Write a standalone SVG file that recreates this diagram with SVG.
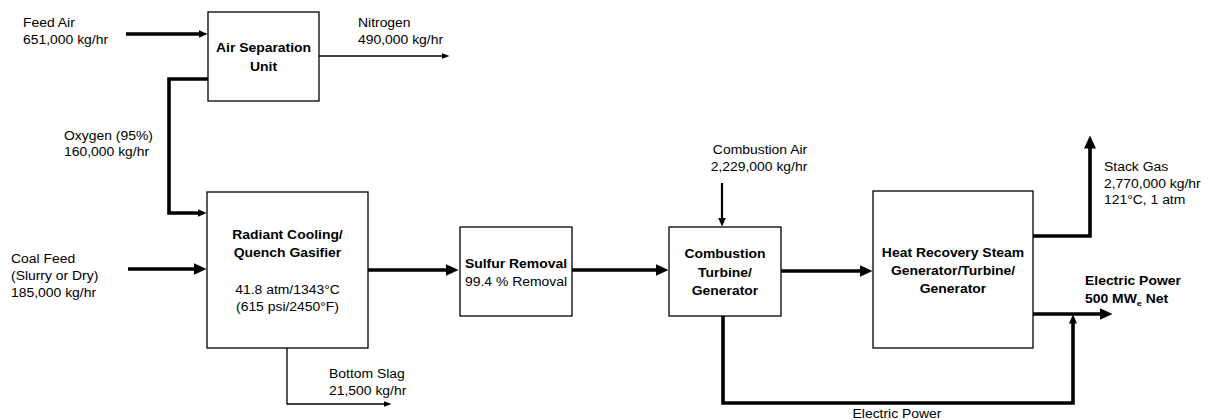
<svg xmlns="http://www.w3.org/2000/svg" width="1212" height="420" viewBox="0 0 1212 420">
<style>
.box{fill:#fff;stroke:#000;stroke-width:1.3}
.thick{fill:none;stroke:#000;stroke-width:3.6;stroke-linejoin:miter}
.mid{fill:none;stroke:#000;stroke-width:2.2}
.thin{fill:none;stroke:#000;stroke-width:1.3}
text{font-family:"Liberation Sans",Arial,sans-serif;font-size:12px;fill:#000}
.b{font-weight:bold}
.c{text-anchor:middle}
</style>
<defs>
<marker id="big" markerUnits="userSpaceOnUse" markerWidth="13" markerHeight="12" viewBox="0 0 13 12" refX="0.5" refY="6" orient="auto"><path d="M0,0 L13,6 L0,12 z" fill="#000"/></marker>
<marker id="med" markerUnits="userSpaceOnUse" markerWidth="9" markerHeight="8" viewBox="0 0 9 8" refX="0.5" refY="4" orient="auto"><path d="M0,0 L9,4 L0,8 z" fill="#000"/></marker>
<marker id="sml" markerUnits="userSpaceOnUse" markerWidth="8" markerHeight="6" viewBox="0 0 8 6" refX="0.5" refY="3" orient="auto"><path d="M0,0 L8,3 L0,6 z" fill="#000"/></marker>
</defs>

<g id="connectors">
<polyline class="thick" points="126,34 199,34" marker-end="url(#med)"/>
<polyline class="thin" points="319,56 442,56" marker-end="url(#sml)"/>
<polyline class="thick" points="208,79 169,79 169,213 198,213" marker-end="url(#med)"/>
<polyline class="thick" points="128,269 194,269" marker-end="url(#big)"/>
<polyline class="thick" points="368,270 446,270" marker-end="url(#big)"/>
<polyline class="thin" points="287,348 287,404 384,404" marker-end="url(#sml)"/>
<polyline class="thick" points="572,270 656,270" marker-end="url(#big)"/>
<polyline class="mid" points="722,183 722,218" marker-end="url(#med)"/>
<polyline class="thick" points="781,271 860,271" marker-end="url(#big)"/>
<polyline class="thick" points="1033,236 1090,236 1090,148" marker-end="url(#big)"/>
<polyline class="thick" points="1033,314 1100,314" marker-end="url(#big)"/>
<polyline class="thick" points="723,316 723,403 1073,403 1073,323" marker-end="url(#med)"/>
</g>

<g id="asu">
<rect class="box" x="208" y="12" width="111" height="89"/>
<text class="b c" transform="translate(263.5,52) scale(1.16,1)">Air Separation</text>
<text class="b c" transform="translate(263.5,70.5) scale(1.16,1)">Unit</text>
</g>

<g id="gasifier">
<rect class="box" x="207" y="192" width="161" height="156"/>
<text class="b c" transform="translate(287.5,239) scale(1.16,1)">Radiant Cooling/</text>
<text class="b c" transform="translate(287.5,256.5) scale(1.16,1)">Quench Gasifier</text>
<text class="c" transform="translate(287.5,293.5) scale(1.16,1)">41.8 atm/1343°C</text>
<text class="c" transform="translate(287.5,311) scale(1.16,1)">(615 psi/2450°F)</text>
</g>

<g id="sulfur">
<rect class="box" x="460" y="227" width="112" height="89"/>
<text class="b c" transform="translate(516,268) scale(1.16,1)">Sulfur Removal</text>
<text class="c" transform="translate(516,286) scale(1.16,1)">99.4 % Removal</text>
</g>

<g id="combustion">
<rect class="box" x="669" y="227" width="112" height="89"/>
<text class="b c" transform="translate(725,258) scale(1.16,1)">Combustion</text>
<text class="b c" transform="translate(725,276.5) scale(1.16,1)">Turbine/</text>
<text class="b c" transform="translate(725,295) scale(1.16,1)">Generator</text>
</g>

<g id="hrsg">
<rect class="box" x="873" y="191" width="160" height="157"/>
<text class="b c" transform="translate(953,256.5) scale(1.16,1)">Heat Recovery Steam</text>
<text class="b c" transform="translate(953,275) scale(1.16,1)">Generator/Turbine/</text>
<text class="b c" transform="translate(953,293) scale(1.16,1)">Generator</text>
</g>

<g id="labels">
<text transform="translate(23,27) scale(1.16,1)">Feed Air</text>
<text transform="translate(23,43.5) scale(1.16,1)">651,000 kg/hr</text>
<text transform="translate(358,27) scale(1.16,1)">Nitrogen</text>
<text transform="translate(358,43.5) scale(1.16,1)">490,000 kg/hr</text>
<text transform="translate(64,139.5) scale(1.16,1)">Oxygen (95%)</text>
<text transform="translate(64,156) scale(1.16,1)">160,000 kg/hr</text>
<text transform="translate(11,262.5) scale(1.16,1)">Coal Feed</text>
<text transform="translate(11,279.5) scale(1.16,1)">(Slurry or Dry)</text>
<text transform="translate(11,296.5) scale(1.16,1)">185,000 kg/hr</text>
<text transform="translate(329,378) scale(1.16,1)">Bottom Slag</text>
<text transform="translate(329,395) scale(1.16,1)">21,500 kg/hr</text>
<text class="c" transform="translate(760,153.5) scale(1.16,1)">Combustion Air</text>
<text class="c" transform="translate(759,171) scale(1.16,1)">2,229,000 kg/hr</text>
<text transform="translate(1104,171) scale(1.16,1)">Stack Gas</text>
<text transform="translate(1104,187.5) scale(1.16,1)">2,770,000 kg/hr</text>
<text transform="translate(1104,204) scale(1.16,1)">121°C, 1 atm</text>
<text class="b" transform="translate(1085,285) scale(1.16,1)">Electric Power</text>
<text class="b" transform="translate(1085,303) scale(1.16,1)">500 MW<tspan font-size="8" dy="2.5">e</tspan><tspan dy="-2.5"> Net</tspan></text>
<text class="c" transform="translate(897,418) scale(1.16,1)">Electric Power</text>
</g>
</svg>
